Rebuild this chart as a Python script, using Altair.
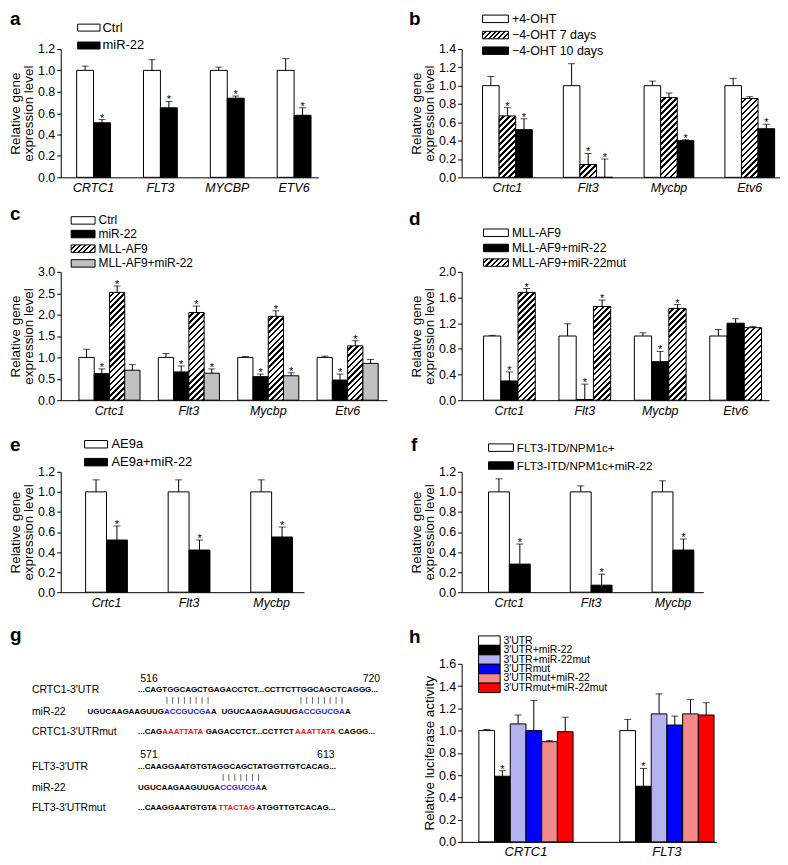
import altair as alt
import pandas as pd

FONT = "Liberation Sans"

# ---------------- data ----------------
a_genes = ["CRTC1", "FLT3", "MYCBP", "ETV6"]
a_series = ["Ctrl", "miR-22"]
a_ctrl = [1.0, 1.0, 1.0, 1.0]
a_ctrl_err = [0.04, 0.10, 0.03, 0.11]
a_mir = [0.51, 0.65, 0.74, 0.58]
a_mir_err = [0.03, 0.06, 0.02, 0.07]
a_ctrl_star = [0, 0, 0, 0]
a_mir_star = [1, 1, 1, 1]
a_ticks = [0.0, 0.2, 0.4, 0.6, 0.8, 1.0, 1.2]

b_genes = ["Crtc1", "Flt3", "Mycbp", "Etv6"]
b_series = ["+4-OHT", "\u22124-OHT 7 days", "\u22124-OHT 10 days"]
b_plus = [1.0, 1.0, 1.0, 1.0]
b_plus_err = [0.10, 0.24, 0.05, 0.08]
b_7d = [0.67, 0.14, 0.87, 0.86]
b_7d_err = [0.09, 0.12, 0.05, 0.02]
b_10d = [0.52, 0.0, 0.40, 0.53]
b_10d_err = [0.12, 0.20, 0.01, 0.05]
b_plus_star = [0, 0, 0, 0]
b_7d_star = [1, 1, 0, 0]
b_10d_star = [1, 1, 1, 1]
b_ticks = [0.0, 0.2, 0.4, 0.6, 0.8, 1.0, 1.2, 1.4]

c_genes = ["Crtc1", "Flt3", "Mycbp", "Etv6"]
c_series = ["Ctrl", "miR-22", "MLL-AF9", "MLL-AF9+miR-22"]
c_ctrl = [1.0, 1.0, 1.0, 1.0]
c_ctrl_err = [0.19, 0.09, 0.02, 0.03]
c_mir = [0.62, 0.66, 0.55, 0.47]
c_mir_err = [0.11, 0.14, 0.06, 0.14]
c_mll = [2.52, 2.05, 1.96, 1.27]
c_mll_err = [0.15, 0.15, 0.13, 0.12]
c_mllmir = [0.70, 0.63, 0.57, 0.86]
c_mllmir_err = [0.13, 0.10, 0.07, 0.09]
c_ctrl_star = [0, 0, 0, 0]
c_mir_star = [1, 1, 1, 1]
c_mll_star = [1, 1, 1, 1]
c_mllmir_star = [0, 1, 1, 0]
c_ticks = [0.0, 0.5, 1.0, 1.5, 2.0, 2.5, 3.0]

d_genes = ["Crtc1", "Flt3", "Mycbp", "Etv6"]
d_series = ["MLL-AF9", "MLL-AF9+miR-22", "MLL-AF9+miR-22mut"]
d_mll = [1.0, 1.0, 1.0, 1.0]
d_mll_err = [0.01, 0.19, 0.05, 0.10]
d_mir = [0.30, 0.01, 0.60, 1.20]
d_mir_err = [0.14, 0.24, 0.16, 0.07]
d_mut = [1.68, 1.46, 1.43, 1.13]
d_mut_err = [0.06, 0.10, 0.06, 0.02]
d_mll_star = [0, 0, 0, 0]
d_mir_star = [1, 1, 1, 0]
d_mut_star = [1, 1, 1, 0]
d_ticks = [0.0, 0.4, 0.8, 1.2, 1.6, 2.0]

e_genes = ["Crtc1", "Flt3", "Mycbp"]
e_series = ["AE9a", "AE9a+miR-22"]
e_ae = [1.0, 1.0, 1.0]
e_ae_err = [0.12, 0.12, 0.12]
e_mir = [0.52, 0.42, 0.55]
e_mir_err = [0.14, 0.10, 0.10]
e_ae_star = [0, 0, 0]
e_mir_star = [1, 1, 1]
e_ticks = [0.0, 0.2, 0.4, 0.6, 0.8, 1.0, 1.2]

f_genes = ["Crtc1", "Flt3", "Mycbp"]
f_series = ["FLT3-ITD/NPM1c+", "FLT3-ITD/NPM1c+miR-22"]
f_ctl = [1.0, 1.0, 1.0]
f_ctl_err = [0.13, 0.06, 0.11]
f_mir = [0.28, 0.07, 0.42]
f_mir_err = [0.20, 0.11, 0.11]
f_ctl_star = [0, 0, 0]
f_mir_star = [1, 1, 1]
f_ticks = [0.0, 0.2, 0.4, 0.6, 0.8, 1.0, 1.2]

h_genes = ["CRTC1", "FLT3"]
h_series = ["3\u2032UTR", "3\u2032UTR+miR-22", "3\u2032UTR+miR-22mut", "3\u2032UTRmut",
            "3\u2032UTRmut+miR-22", "3\u2032UTRmut+miR-22mut"]
h_utr = [1.0, 1.0]
h_utr_err = [0.01, 0.10]
h_utr_mir = [0.59, 0.50]
h_utr_mir_err = [0.05, 0.16]
h_utr_mut = [1.06, 1.15]
h_utr_mut_err = [0.08, 0.18]
h_mut = [1.0, 1.05]
h_mut_err = [0.27, 0.08]
h_mut_mir = [0.90, 1.15]
h_mut_mir_err = [0.01, 0.13]
h_mut_mut = [0.99, 1.14]
h_mut_mut_err = [0.13, 0.11]
h_star = [[0, 0], [1, 1], [0, 0], [0, 0], [0, 0], [0, 0]]
h_ticks = [0.0, 0.2, 0.4, 0.6, 0.8, 1.0, 1.2, 1.4, 1.6]

g_row_labels = ["CRTC1-3\u2032UTR", "miR-22", "CRTC1-3\u2032UTRmut",
                "FLT3-3\u2032UTR", "miR-22", "FLT3-3\u2032UTRmut"]
g_numbers = ["516", "720", "571", "613"]
g_crtc1_utr = [("...CAGTGGCAGCTGAGACCTCT...CCTTCTTGGCAGCTCAGGG...", "k")]
g_mir22_a = [("UGUCAAGAAGUUG", "k"), ("ACCGUCGA", "b"), ("A", "k")]
g_crtc1_mut = [("...CAG", "k"), ("AAATTATA", "r"), ("GAGACCTCT...CCTTCT", "k"),
               ("AAATTATA", "r"), ("CAGGG...", "k")]
g_flt3_utr = [("...CAAGGAATGTGTAGGCAGCTATGGTTGTCACAG...", "k")]
g_mir22_b = [("UGUCAAGAAGUUGA", "k"), ("CCGUCGA", "b"), ("A", "k")]
g_flt3_mut = [("...CAAGGAATGTGTA", "k"), ("TTACTAG", "r"), ("ATGGTTGTCACAG...", "k")]

# ---------------- layout helpers ----------------
COL_X = [59, 462]
ROW_Y = [47, 248, 472, 665]
YTITLE = ["Relative gene", "expression level"]


def band_params(W, L, G, step, n):
    R = W - L - G - (n - 1) * step
    pi = 1 - G / step
    po = (L + R) / (2 * step)
    al = L / (L + R)
    return pi, po, al


def hatch_fill(w, h, period=4.2, frac=0.42):
    h = max(h, 0.6)
    s = (1 / h + 1 / w) / (1 / h ** 2 + 1 / w ** 2)
    x2, y2 = s / h, s / w
    D = (w + h) / 2 ** 0.5
    N = max(1, int(round(D / period)))
    stops = []
    for k in range(N):
        a = k / N
        b = (k + 1 - frac) / N
        c = (k + 1) / N
        stops += [{"color": "white", "offset": a}, {"color": "white", "offset": b},
                  {"color": "black", "offset": b}, {"color": "black", "offset": c}]
    return {"gradient": "linear", "x1": 0, "y1": 0, "x2": x2, "y2": y2, "stops": stops}


ONE = pd.DataFrame({"k": [0]})


def legend_layers(labels, fills, cx, cy, x0, x1, ys, tx, fs, sh):
    out = []
    for lab, fl, yc in zip(labels, fills, ys):
        y0 = yc - sh / 2 - cy
        y1 = yc + sh / 2 - cy
        fill = hatch_fill(x1 - x0, sh, period=3.6) if fl == "hatch" else fl
        out.append(alt.Chart(ONE).mark_rect(stroke="black", strokeWidth=1, fill=fill).encode(
            x=alt.value(x0 - cx), x2=alt.value(x1 - cx), y=alt.value(y0), y2=alt.value(y1)))
        out.append(alt.Chart(ONE).mark_text(align="left", baseline="middle", fontSize=fs,
                                            color="black", text=lab).encode(
            x=alt.value(tx - cx), y=alt.value(yc - cy)))
    return out


def letter_layer(ch, cx, cy, px, py, baseline):
    return alt.Chart(ONE).mark_text(text=ch, fontSize=19, fontWeight="bold", align="left",
                                    baseline=baseline, color="black").encode(
        x=alt.value(px - cx), y=alt.value(py - cy))


def bar_panel(genes, series, vals, errs, stars, fills, ymax, yticks, ytitle,
              W, H, L, G, step, top_pad, col, row, legend, letter, xlab_size=12.5):
    cx, cy = COL_X[col], ROW_Y[row]
    n, m = len(genes), len(series)
    pi, po, al = band_params(W, L, G, step, n)
    bw = G / m
    xs = alt.Scale(type="band", domain=genes, paddingInner=pi, paddingOuter=po, align=al)
    xax = alt.Axis(title=None, ticks=False, labelFontStyle="italic", labelFontSize=xlab_size,
                   labelPadding=4, labelAngle=0, domainColor="black", labelColor="black",
                   domainWidth=1)
    ys = alt.Scale(domain=[0, ymax], range=[top_pad + H, top_pad], nice=False, zero=True)
    yax = alt.Axis(title=ytitle, values=yticks, format=".1f", grid=False, tickSize=4,
                   tickColor="black", domainColor="black", labelFontSize=12.5, labelPadding=2,
                   titleFontSize=13.5, titleFontWeight="normal", titlePadding=2,
                   titleLineHeight=13, labelColor="black", titleColor="black")
    X = alt.X("gene:N", scale=xs, axis=xax)
    Yv = alt.Y("value:Q", scale=ys, axis=yax)
    Yt = alt.Y("top:Q", scale=ys, axis=yax)
    layers = []
    for si, s in enumerate(series):
        off = (si - (m - 1) / 2) * bw
        df = pd.DataFrame({"gene": genes, "value": vals[si],
                           "top": [v + e for v, e in zip(vals[si], errs[si])],
                           "star": stars[si]})
        if fills[si] == "hatch":
            for gi, g in enumerate(genes):
                hpx = vals[si][gi] / ymax * H
                layers.append(alt.Chart(df.iloc[[gi]]).mark_bar(
                    stroke="black", strokeWidth=1, width=bw, xOffset=off,
                    fill=hatch_fill(bw, hpx)).encode(x=X, y=Yv))
        else:
            layers.append(alt.Chart(df).mark_bar(stroke="black", strokeWidth=1, width=bw,
                                                 xOffset=off, fill=fills[si]).encode(x=X, y=Yv))
        layers.append(alt.Chart(df).mark_rule(color="black", strokeWidth=1, xOffset=off).encode(
            x=X, y=Yv, y2="top:Q"))
        layers.append(alt.Chart(df).mark_tick(color="black", orient="horizontal", size=7,
                                              thickness=1, xOffset=off).encode(x=X, y=Yt))
        sdf = df[df["star"] == 1]
        if len(sdf):
            layers.append(alt.Chart(sdf).mark_text(text="*", fontSize=11, baseline="alphabetic",
                                                   dy=2, color="black", xOffset=off).encode(
                x=X, y=Yt))
    layers += legend_layers(series, fills, cx, cy, **legend)
    layers.append(letter_layer(letter[0], cx, cy, *letter[1:]))
    return alt.layer(*layers).properties(width=W, height=H + top_pad)


# ---------------- panels ----------------
pa = bar_panel(a_genes, a_series, [a_ctrl, a_mir], [a_ctrl_err, a_mir_err],
               [a_ctrl_star, a_mir_star], ["white", "black"], 1.2, a_ticks, YTITLE,
               W=259, H=129, L=16, G=34, step=67.2, top_pad=0, col=0, row=0,
               legend=dict(x0=76, x1=98.5, ys=[25.5, 43.5], tx=101, fs=13, sh=7),
               letter=("a", 8, 8, "top"))

pb = bar_panel(b_genes, b_series, [b_plus, b_7d, b_10d], [b_plus_err, b_7d_err, b_10d_err],
               [b_plus_star, b_7d_star, b_10d_star], ["white", "hatch", "black"], 1.4,
               b_ticks, YTITLE,
               W=320, H=129, L=21, G=50, step=81.2, top_pad=0, col=1, row=0,
               legend=dict(x0=483, x1=509, ys=[16.7, 33, 48.7], tx=512.5, fs=12.5, sh=7.5),
               letter=("b", 409, 8, "top"))

pc = bar_panel(c_genes, c_series, [c_ctrl, c_mir, c_mll, c_mllmir],
               [c_ctrl_err, c_mir_err, c_mll_err, c_mllmir_err],
               [c_ctrl_star, c_mir_star, c_mll_star, c_mllmir_star],
               ["white", "black", "hatch", "#c0c0c0"], 3.0, c_ticks, YTITLE,
               W=328, H=129, L=18.3, G=61.4, step=79.8, top_pad=23, col=0, row=1,
               legend=dict(x0=69.5, x1=93.5, ys=[219.3, 233, 247.7, 262.5], tx=97, fs=12,
                           sh=7.5),
               letter=("c", 8, 213, "middle"))

pd_ = bar_panel(d_genes, d_series, [d_mll, d_mir, d_mut], [d_mll_err, d_mir_err, d_mut_err],
                [d_mll_star, d_mir_star, d_mut_star], ["white", "black", "hatch"], 2.0,
                d_ticks, YTITLE,
                W=309, H=129, L=22, G=52, step=75.8, top_pad=23, col=1, row=1,
                legend=dict(x0=484, x1=509, ys=[231.7, 247, 261.7], tx=512.5, fs=12, sh=7.5),
                letter=("d", 409, 218, "middle"))

pe = bar_panel(e_genes, e_series, [e_ae, e_mir], [e_ae_err, e_mir_err],
               [e_ae_star, e_mir_star], ["white", "black"], 1.2, e_ticks, YTITLE,
               W=244.5, H=121, L=25, G=42, step=83, top_pad=0, col=0, row=2,
               legend=dict(x0=83, x1=106, ys=[444.3, 462.3], tx=110, fs=13, sh=7.5),
               letter=("e", 8, 445, "middle"))

pf = bar_panel(f_genes, f_series, [f_ctl, f_mir], [f_ctl_err, f_mir_err],
               [f_ctl_star, f_mir_star], ["white", "black"], 1.2, f_ticks, YTITLE,
               W=243, H=121, L=27, G=42, step=82.2, top_pad=0, col=1, row=2,
               legend=dict(x0=489, x1=514, ys=[447.7, 465.7], tx=517.5, fs=11.8, sh=7.5),
               letter=("f", 411, 445, "middle"))

ph = bar_panel(h_genes, h_series,
               [h_utr, h_utr_mir, h_utr_mut, h_mut, h_mut_mir, h_mut_mut],
               [h_utr_err, h_utr_mir_err, h_utr_mut_err, h_mut_err, h_mut_mir_err, h_mut_mut_err],
               h_star, ["white", "black", "#b3b3f0", "#0000ff", "#f28a8a", "#ff0000"],
               1.6, h_ticks, "Relative luciferase activity",
               W=256, H=179, L=17.3, G=94.7, step=141.7, top_pad=0, col=1, row=3,
               legend=dict(x0=479, x1=500.7, ys=[641.7 + 9.5 * i for i in range(6)], tx=504,
                           fs=10.5, sh=9.5),
               letter=("h", 409, 638, "middle"), xlab_size=13)

# ---------------- panel g (sequence alignment) ----------------
W_BOLD = {"A": .722, "C": .722, "G": .778, "T": .611, "U": .722, ".": .278}
SEQ_FS = 8
SEQ_COLORS = {"k": "black", "b": "#2626d9", "r": "#ea1c24"}
GX, GY = COL_X[0], ROW_Y[3]


def seg_w(s):
    return sum(W_BOLD[c] for c in s) * SEQ_FS


bold_items, bar_items = [], []


def add_seq(segments, x0, y, bars_y=None):
    x = x0
    for txt, c in segments:
        bold_items.append(dict(txt=txt, x=x - GX, y=y - GY, color=SEQ_COLORS[c]))
        if c == "b" and bars_y is not None:
            xx = x
            for ch in txt:
                w = W_BOLD[ch] * SEQ_FS
                bar_items.append(dict(x=xx + w / 2 - GX, y=bars_y - 3.5 - GY,
                                      y2=bars_y + 3.5 - GY))
                xx += w
        x += seg_w(txt)


add_seq(g_crtc1_utr, 136.7, 691.7)
add_seq(g_mir22_a, 86, 713.3, bars_y=701.7)
add_seq(g_mir22_a, 220.7, 713.3, bars_y=701.7)
add_seq(g_crtc1_mut, 136.7, 733.3)
add_seq(g_flt3_utr, 136.7, 769)
add_seq(g_mir22_b, 136.7, 790, bars_y=779.3)
add_seq(g_flt3_mut, 136.7, 810)

label_ys = [691.7, 713.3, 733.3, 769, 790, 810]
left_items = [dict(txt=t, x=30 - GX, y=yy - GY) for t, yy in zip(g_row_labels, label_ys)]
num_pos = [(139, 680, "left"), (380, 680, "right"), (139, 756.7, "left"), (316.7, 756.7, "left")]
right_items = []
for t, p in zip(g_numbers, num_pos):
    item = dict(txt=t, x=p[0] - GX, y=p[1] - GY)
    (left_items if p[2] == "left" else right_items).append(item)

df_bold = pd.DataFrame(bold_items)
df_bars = pd.DataFrame(bar_items)
df_left = pd.DataFrame(left_items)
df_right = pd.DataFrame(right_items)

PX = alt.X("x:Q", scale=None, axis=None)
PY = alt.Y("y:Q", scale=None, axis=None)
g_layers = [
    alt.Chart(df_bold).mark_text(align="left", baseline="middle", fontSize=SEQ_FS,
                                 fontWeight="bold").encode(
        x=PX, y=PY, text="txt:N", color=alt.Color("color:N", scale=None)),
    alt.Chart(df_bars).mark_rule(color="#444444", strokeWidth=0.8).encode(
        x=PX, y=PY, y2="y2:Q"),
    alt.Chart(df_left).mark_text(align="left", baseline="middle", fontSize=10.5,
                                 color="black").encode(x=PX, y=PY, text="txt:N"),
    alt.Chart(df_right).mark_text(align="right", baseline="middle", fontSize=10.5,
                                  color="black").encode(x=PX, y=PY, text="txt:N"),
    letter_layer("g", GX, GY, 8, 636, "middle"),
]
pg = alt.layer(*g_layers).properties(width=328, height=179)

chart = alt.concat(pa, pb, pc, pd_, pe, pf, pg, ph, columns=2,
                   spacing={"row": 72, "column": 75}, bounds="flush", align="each"
                   ).properties(padding=0).configure(font=FONT).configure_view(stroke=None)

chart.save("out.html", embed_options={"renderer": "svg", "actions": False})
